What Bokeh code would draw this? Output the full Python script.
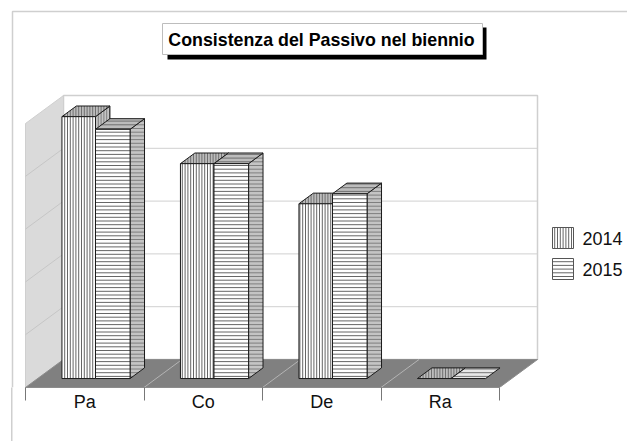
import numpy as np
from bokeh.core.properties import value
from bokeh.embed import file_html
from bokeh.models import FixedTicker, Range1d
from bokeh.plotting import figure
from bokeh.resources import INLINE

categories = ["Pa", "Co", "De", "Ra"]
series_2014 = [4.96, 4.07, 3.31, 0.0]
series_2015 = [4.72, 4.07, 3.50, 0.0]
series_names = ["2014", "2015"]
title_text = "Consistenza del Passivo nel biennio"
y_grid = [0, 1, 2, 3, 4, 5]

W, H = 627, 441
BOTTOM = 54
CAT_PX, UNIT_PX = 118.5, 52.8
X0_PX, Y0_PX = 25.0, 387.0
DX_PX, DY_PX = 38.0, 28.0
DX, DY = DX_PX / CAT_PX, DY_PX / UNIT_PX
FONT = "Liberation Sans"


def px(x, y):
    return (x - X0_PX) / CAT_PX, (Y0_PX - y) / UNIT_PX


def proj(cat, val, z):
    return cat + z * DX, val + z * DY


p = figure(
    width=W, height=H, output_backend="svg", toolbar_location=None,
    x_range=Range1d((0 - X0_PX) / CAT_PX, (W - X0_PX) / CAT_PX),
    y_range=Range1d(0, Y0_PX / UNIT_PX),
    min_border_left=0, min_border_right=0, min_border_top=0, min_border_bottom=BOTTOM,
    y_axis_location=None, background_fill_color="white", border_fill_color=None,
)
# outer frame line below the plot area (the plot area draws its own part)
p.styles = {"background": "linear-gradient(#cfcfcf,#cfcfcf) 11px 380px / 1.5px 61px no-repeat"}
p.outline_line_color = None
p.grid.visible = False

ax = p.xaxis[0]
ax.ticker = FixedTicker(ticks=[i + 0.5 for i in range(4)], minor_ticks=list(range(5)))
ax.major_label_overrides = {i + 0.5: c for i, c in enumerate(categories)}
ax.bounds = (0, 4)
ax.major_tick_line_color = None
ax.major_tick_out = 0
ax.major_tick_in = 0
ax.minor_tick_out = 13
ax.minor_tick_in = 0
ax.minor_tick_line_color = "#777777"
ax.axis_line_color = "#8c8c8c"
ax.axis_line_width = 1
ax.major_label_standoff = -9
ax.major_label_text_font = FONT
ax.major_label_text_font_size = "18px"
ax.major_label_text_color = "#111111"

# outer chart frame
fx, fy = px(12, 11)
fx2, fy2 = px(12, 387)
p.line([fx2, fx, (W - X0_PX) / CAT_PX], [fy2, fy, fy], line_color="#cfcfcf", line_width=1.5)

# walls and floor
n = len(categories)
top = max(y_grid)
wall_x = [proj(0, 0, 1)[0], proj(n, 0, 1)[0], proj(n, top, 1)[0], proj(0, top, 1)[0]]
wall_y = [proj(0, 0, 1)[1], proj(n, 0, 1)[1], proj(n, top, 1)[1], proj(0, top, 1)[1]]
p.patch(wall_x, wall_y, fill_color="white", line_color="#cfcfcf", line_width=1.5)
lw = [proj(0, 0, 0), proj(0, 0, 1), proj(0, top, 1), proj(0, top, 0)]
p.patch([a for a, _ in lw], [b for _, b in lw], fill_color="#dadada", line_color="#cfcfcf", line_width=1)
fl = [proj(0, 0, 0), proj(n, 0, 0), proj(n, 0, 1), proj(0, 0, 1)]
p.patch([a for a, _ in fl], [b for _, b in fl], fill_color="#808080", line_color="#8c8c8c", line_width=1)
for g in y_grid[1:-1]:
    a, b = proj(0, g, 0), proj(0, g, 1)
    c = proj(n, g, 1)
    p.line([a[0], b[0]], [a[1], b[1]], line_color="#c6c6c6", line_width=1)
    p.line([b[0], c[0]], [b[1], c[1]], line_color="#d0d0d0", line_width=1)
for i in range(1, n):
    a, b = proj(i, 0, 0), proj(i, 0, 1)
    p.line([a[0], b[0]], [a[1], b[1]], line_color="#b4b4b4", line_width=1)


def hatch(poly, vertical, step):
    """Screen-aligned hatch lines clipped to a convex polygon."""
    k = 0 if vertical else 1
    vals = [q[k] for q in poly]
    lo, hi = min(vals), max(vals)
    xs, ys = [], []
    for c in np.arange(np.ceil(lo / step) * step, hi, step):
        hits = []
        for u, w in zip(poly, poly[1:] + poly[:1]):
            if (u[k] - c) * (w[k] - c) <= 0 and u[k] != w[k]:
                t = (c - u[k]) / (w[k] - u[k])
                hits.append(u[1 - k] + t * (w[1 - k] - u[1 - k]))
        if len(hits) >= 2:
            if vertical:
                xs.append([c, c]); ys.append([min(hits), max(hits)])
            else:
                xs.append([min(hits), max(hits)]); ys.append([c, c])
    return xs, ys


STEP_V = 2.8 / CAT_PX
STEP_H = 3.7 / UNIT_PX


def face(poly, vertical, fill, hatch_color="#555555"):
    xs = [q[0] for q in poly]
    ys = [q[1] for q in poly]
    p.patch(xs, ys, fill_color=fill, line_color=None)
    hx, hy = hatch(poly, vertical, STEP_V if vertical else STEP_H)
    p.multi_line(hx, hy, line_color=hatch_color, line_width=0.9)
    p.patch(xs, ys, fill_alpha=0, line_color="#1a1a1a", line_width=1)


Z0, Z1 = 0.32, 0.70
EDGES = [0.205, 0.488, 0.780]


def bar(i, s, v):
    a, b = i + EDGES[s], i + EDGES[s + 1]
    vert = s == 0
    if v > 0:
        side = [proj(b, 0, Z0), proj(b, 0, Z1), proj(b, v, Z1), proj(b, v, Z0)]
        face(side, vert, "#c4c4c4", "#777777")
    tp = [proj(a, v, Z0), proj(b, v, Z0), proj(b, v, Z1), proj(a, v, Z1)]
    face(tp, vert, "#bcbcbc" if (v > 0 or vert) else "#e8e8e8", "#666666")
    if v > 0:
        fr = [proj(a, 0, Z0), proj(b, 0, Z0), proj(b, v, Z0), proj(a, v, Z0)]
        face(fr, vert, "white")


for i in range(n):
    bar(i, 0, series_2014[i])
    bar(i, 1, series_2015[i])

# legend
for s, (name, ytop) in enumerate(zip(series_names, [227, 258])):
    c0 = px(552, ytop)
    c1 = px(573, ytop + 21)
    poly = [(c0[0], c0[1]), (c1[0], c0[1]), (c1[0], c1[1]), (c0[0], c1[1])]
    xs = [q[0] for q in poly]
    ys = [q[1] for q in poly]
    p.patch(xs, ys, fill_color="white", line_color=None)
    hx, hy = hatch(poly, s == 0, STEP_V if s == 0 else STEP_H)
    p.multi_line(hx, hy, line_color="#555555", line_width=0.9)
    p.patch(xs, ys, fill_alpha=0, line_color="#555555", line_width=1)
    tx, ty = px(582, ytop + 11)
    p.text([tx], [ty], text=[name], text_font=value(FONT), text_font_size="18px",
           text_color="#111111", text_baseline="middle", text_align="left")

# title box
a0, b0 = px(167, 27)
a1, b1 = px(486, 59)
p.quad(left=a0, right=a1, top=b0, bottom=b1, fill_color="black", line_color=None)
a0, b0 = px(162, 23)
a1, b1 = px(482, 54)
p.quad(left=a0, right=a1, top=b0, bottom=b1, fill_color="white", line_color="#bdbdbd", line_width=1)
tx, ty = px(321, 39)
p.text([tx], [ty], text=[title_text], text_font=value(FONT), text_font_style="bold",
       text_font_size="17.8px", text_color="black", text_align="center", text_baseline="middle")

open("out.html", "w").write(file_html(p, INLINE))
